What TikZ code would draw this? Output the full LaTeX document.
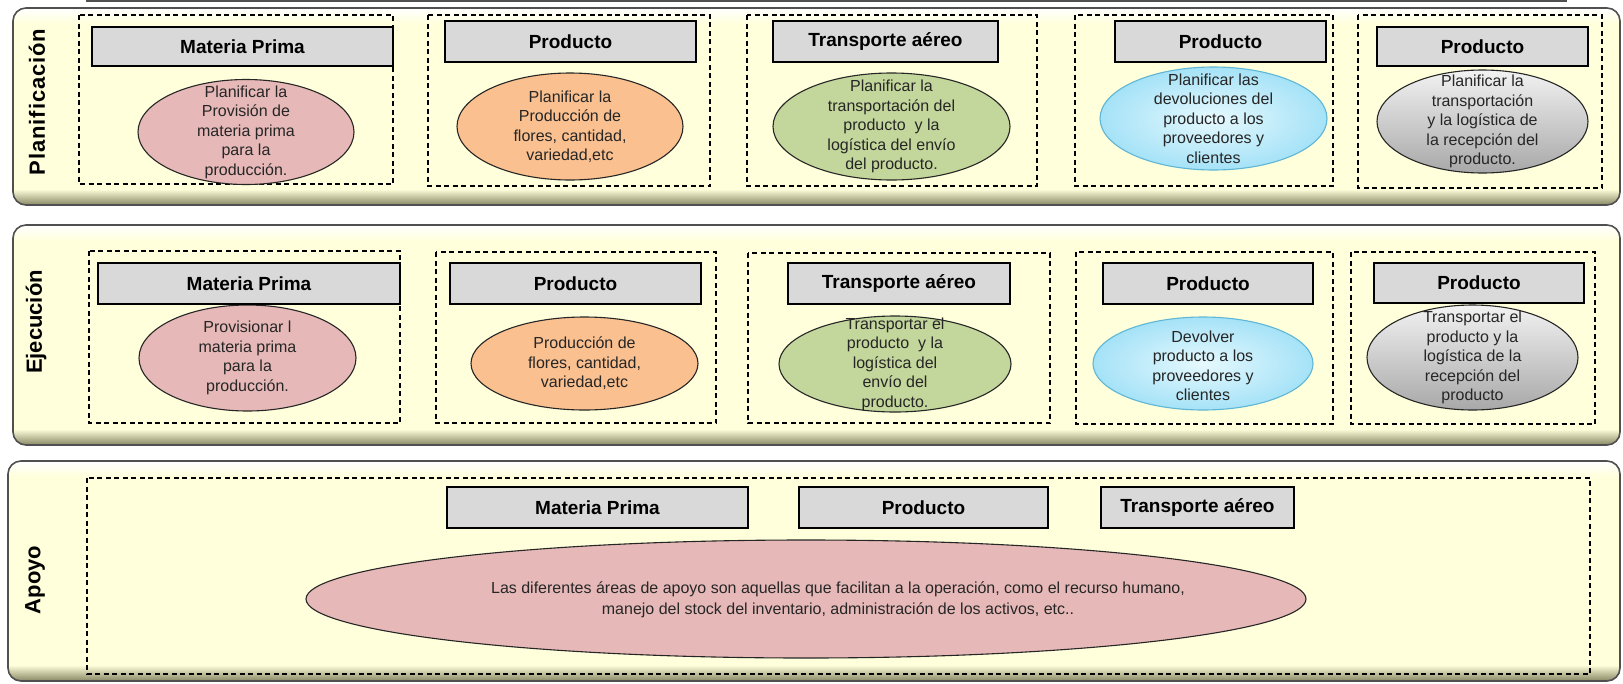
\documentclass[tikz,border=0pt]{standalone}
\usepackage{fontspec}
\setmainfont{Liberation Sans}
\definecolor{fondoA}{RGB}{255, 255, 219}
\definecolor{sombraA}{RGB}{135, 135, 100}
\definecolor{bordeA}{RGB}{80, 80, 80}
\definecolor{cabeceraA}{RGB}{217, 217, 217}
\definecolor{rosaA}{RGB}{230, 185, 184}
\definecolor{naranjaA}{RGB}{250, 192, 144}
\definecolor{verdeA}{RGB}{195, 214, 155}
\definecolor{celesteA}{RGB}{230, 249, 254}
\definecolor{celesteB}{RGB}{165, 226, 247}
\definecolor{celesteC}{RGB}{95, 182, 214}
\definecolor{grisA}{RGB}{242, 242, 242}
\definecolor{grisB}{RGB}{168, 168, 168}
\usetikzlibrary{shapes.geometric}

\begin{document}
\begin{tikzpicture}[x=1pt, y=-1pt,
	grupo/.style={draw=black, line width=1.2pt, dash pattern=on 5pt off 3.5pt},
	cabecera/.style={draw=black, line width=1.8pt, fill=cabeceraA, inner sep=0pt, minimum height=41,
		font=\bfseries\fontsize{19}{22}\selectfont},
	etiqueta/.style={rotate=90, font=\bfseries\fontsize{22}{26}\selectfont},
	proceso/.style={ellipse, draw=black!85, line width=1.1pt, inner sep=0pt},
	texto/.style={align=center, text=black!85, font=\fontsize{16}{19.5}\selectfont}
]

\useasboundingbox (0,0) rectangle (1623,683);
\clip (0,0) rectangle (1623,683);

%%% MARCO SUPERIOR
\draw[line width=1.5pt, draw=bordeA] (87,-20) rectangle (1566,1);

%%% FRANJAS
\foreach \xa/\ya/\yb in {13/8/205, 13/225/445, 8/461/681} {
	\begin{scope}
	\clip[rounded corners=13pt] (\xa,\ya) rectangle (1620,\yb);
		\fill[fondoA] (\xa,\ya) rectangle (1620,\yb);
		\shade[top color=white, bottom color=fondoA] (\xa,\ya) rectangle (1620,\ya+16);
		\shade[top color=fondoA, bottom color=sombraA] (\xa,\yb-16) rectangle (1620,\yb);
	\end{scope}
	\draw[draw=bordeA, line width=1.6pt, rounded corners=13pt] (\xa,\ya) rectangle (1620,\yb);
}

\node[etiqueta] (lplan) at (37,102) {\addfontfeature{LetterSpace=4}Planificación};
\node[etiqueta] (lejec) at (36,322) {Ejecución};
\node[etiqueta] (lapoyo) at (35,580) {Apoyo};

%%% PLANIFICACION

\draw[grupo] (79,15) rectangle (393,184);
\draw[grupo] (428,15) rectangle (710,186);
\draw[grupo] (747,15) rectangle (1037,186);
\draw[grupo] (1075,15) rectangle (1333,186);
\draw[grupo] (1358,15) rectangle (1602,188);

\node[proceso, fill=rosaA, minimum width=216, minimum height=105] (ep1) at (246,132) {};
\node[texto] (tp1) at (ep1) {Planificar la\\Provisión de\\materia prima\\para la\\producción.};

\node[proceso, fill=naranjaA, minimum width=226, minimum height=107] (ep2) at (570,126.5) {};
\node[texto] (tp2) at (ep2) {Planificar la\\Producción de\\flores, cantidad,\\variedad,etc};

\node[proceso, fill=verdeA, minimum width=237, minimum height=107] (ep3) at (891.5,126.5) {};
\node[texto] (tp3) at (ep3) {Planificar la\\transportación del\\producto~~y la\\logística del envío\\del producto.};

\node[proceso, draw=celesteC, inner color=celesteA, outer color=celesteB, minimum width=227, minimum height=103] (ep4) at (1213.5,118.5) {};
\node[texto] (tp4) at (ep4) {Planificar las\\devoluciones del\\producto a los\\proveedores y\\clientes};

\node[proceso, top color=grisA, bottom color=grisB, minimum width=211, minimum height=103] (ep5) at (1482.5,121.5) {};
\node[texto] (tp5) at (ep5) {Planificar la\\transportación\\y la logística de\\la recepción del\\producto.};

\node[cabecera, minimum width=301, minimum height=39] (hp1) at (242.5,46.5) {Materia Prima};
\node[cabecera, minimum width=251] (hp2) at (570.5,41.5) {Producto};
\node[cabecera, minimum width=225] (hp3) at (885.5,41.5) {Transporte aéreo};
\node[cabecera, minimum width=211] (hp4) at (1220.5,41.5) {Producto};
\node[cabecera, minimum width=211, minimum height=39] (hp5) at (1482.5,46.5) {Producto};

%%% EJECUCION

\draw[grupo] (89,251) rectangle (400,423);
\draw[grupo] (436,252) rectangle (716,423);
\draw[grupo] (748,253) rectangle (1050,423);
\draw[grupo] (1076,252) rectangle (1333,424);
\draw[grupo] (1351,252) rectangle (1595,424);

\node[proceso, fill=rosaA, minimum width=217, minimum height=106] (ee1) at (247.5,358) {};
\node[texto] (te1) at (ee1) {Provisionar l\\materia prima\\para la\\producción.};

\node[proceso, fill=naranjaA, minimum width=227, minimum height=93] (ee2) at (584.5,363.5) {};
\node[texto] (te2) at (ee2) {Producción de\\flores, cantidad,\\variedad,etc};

\node[proceso, fill=verdeA, minimum width=232, minimum height=96] (ee3) at (895,364) {};
\node[texto] (te3) at (ee3) {Transportar el\\producto~~y la\\logística del\\envío del\\producto.};

\node[proceso, draw=celesteC, inner color=celesteA, outer color=celesteB, minimum width=220, minimum height=93] (ee4) at (1203,363.5) {};
\node[texto] (te4) at (1203,366) {Devolver\\producto a los\\proveedores y\\clientes};

\node[proceso, top color=grisA, bottom color=grisB, minimum width=211, minimum height=105] (ee5) at (1472.5,357.5) {};
\node[texto] (te5) at (ee5) {Transportar el\\producto y la\\logística de la\\recepción del\\producto};

\node[cabecera, minimum width=302] (he1) at (249,283.5) {Materia Prima};
\node[cabecera, minimum width=251] (he2) at (575.5,283.5) {Producto};
\node[cabecera, minimum width=222] (he3) at (899,283.5) {Transporte aéreo};
\node[cabecera, minimum width=210] (he4) at (1208,283.5) {Producto};
\node[cabecera, minimum width=210, minimum height=40] (he5) at (1479,283) {Producto};

%%% APOYO

\draw[grupo] (87,478) rectangle (1590,674);

\node[proceso, fill=rosaA, minimum width=1000, minimum height=118] (ea) at (806,599) {};
\node[texto, font=\fontsize{16}{20.5}\selectfont] (ta) at (838,600) {Las diferentes áreas de apoyo son aquellas que facilitan a la operación, como el recurso humano,\\manejo del stock del inventario, administración de los activos, etc..};

\node[cabecera, minimum width=301] (ha1) at (597.5,507.5) {Materia Prima};
\node[cabecera, minimum width=249] (ha2) at (923.5,507.5) {Producto};
\node[cabecera, minimum width=193] (ha3) at (1197.5,507.5) {Transporte aéreo};

\end{tikzpicture}
\end{document}
